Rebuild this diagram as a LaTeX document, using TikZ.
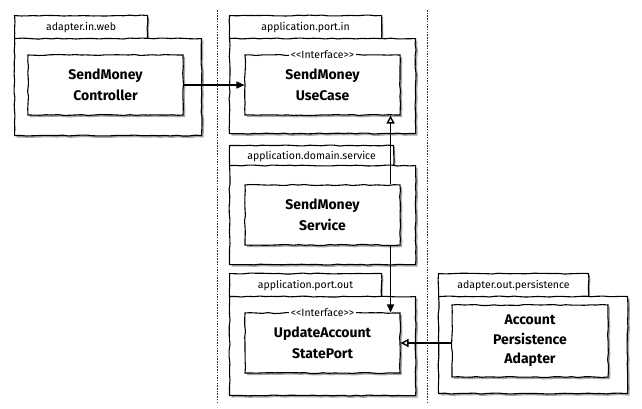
\documentclass[tikz,border=0pt]{standalone}
\usepackage{fontspec}
\setmainfont{Fira Sans}
\usetikzlibrary{arrows.meta,positioning,decorations.pathmorphing,shadows}

\tikzset{
  sketch/.style={decorate, decoration={random steps, segment length=6pt, amplitude=0.5pt}},
  pkgtab/.style={draw, sketch, fill=white, line width=1.1pt, anchor=north west,
    minimum height=24pt, inner sep=0pt, font=\fontsize{10.5}{12}\selectfont,
    drop shadow={shadow xshift=1.5pt, shadow yshift=-1.5pt, fill=black!70}},
  pkgbody/.style={draw, sketch, fill=white, line width=1.1pt, anchor=north west, inner sep=0pt,
    drop shadow={shadow xshift=2pt, shadow yshift=-2pt, fill=black!70}},
  cls/.style={draw, sketch, fill=white, line width=1.1pt, minimum width=155pt, minimum height=60pt,
    align=center, font=\fontsize{14}{21}\selectfont\bfseries,
    drop shadow={shadow xshift=2pt, shadow yshift=-2pt, fill=black!70}},
  stereo/.style={fill=white, inner sep=1.5pt, font=\fontsize{10.5}{12}\selectfont},
  uses/.style={line width=1.4pt, -{Triangle[length=8pt,width=7pt]}},
  impl/.style={line width=1.4pt, -{Triangle[open,length=8pt,width=8pt]}},
  ring/.style={black!80, line width=0.9pt, dash pattern=on 1.5pt off 1.2pt}
}

\begin{document}
\begin{tikzpicture}[x=1pt, y=-1pt]
  \useasboundingbox (0,0) rectangle (642,408);

  % ring borders
  \draw[ring] (217,10) -- (217,402);
  \draw[ring] (427,10) -- (427,402);

  % adapter.in.web
  \node[pkgtab, minimum width=133pt] (webtab) at (14,15) {adapter.in.web};
  \node[pkgbody, minimum width=187pt, minimum height=97pt] (webpkg) at (14,38) {};
  \node[cls] (controller) at (105.5,85) {SendMoney\\Controller};

  % application.port.in
  \node[pkgtab, minimum width=152pt] (intab) at (229,15) {application.port.in};
  \node[pkgbody, minimum width=186pt, minimum height=95pt] (inpkg) at (229,38) {};
  \node[cls] (usecase) at (322.5,85) {SendMoney\\UseCase};
  \node[stereo] at (usecase.north) {<{}<Interface>{}>};

  % application.domain.service
  \node[pkgtab, minimum width=164pt, minimum height=21pt] (svctab) at (229,145) {application.domain.service};
  \node[pkgbody, minimum width=186pt, minimum height=99pt] (svcpkg) at (229,165) {};
  \node[cls] (service) at (322.5,215) {SendMoney\\Service};

  % application.port.out
  \node[pkgtab, minimum width=152pt] (outtab) at (229,273) {application.port.out};
  \node[pkgbody, minimum width=186pt, minimum height=99pt] (outpkg) at (229,296) {};
  \node[cls] (stateport) at (322.5,343) {UpdateAccount\\StatePort};
  \node[stereo] at (stateport.north) {<{}<Interface>{}>};

  % adapter.out.persistence
  \node[pkgtab, minimum width=150pt] (perstab) at (438,273) {adapter.out.persistence};
  \node[pkgbody, minimum width=189pt, minimum height=97pt] (perspkg) at (438,296) {};
  \node[cls, minimum width=156pt, minimum height=72pt, font=\fontsize{14}{19.5}\selectfont\bfseries]
    (adapter) at (530,341) {Account\\Persistence\\Adapter};

  % dependencies
  \draw[uses] (controller.east) -- (controller.east -| usecase.west);
  \draw[impl] ([xshift=-10pt]service.north east) -- ([xshift=-10pt]service.north east |- usecase.south);
  \draw[uses] ([xshift=-10pt]service.south east) -- ([xshift=-10pt]service.south east |- stateport.north);
  \draw[impl] (adapter.west |- stateport.east) -- (stateport.east);
\end{tikzpicture}
\end{document}
